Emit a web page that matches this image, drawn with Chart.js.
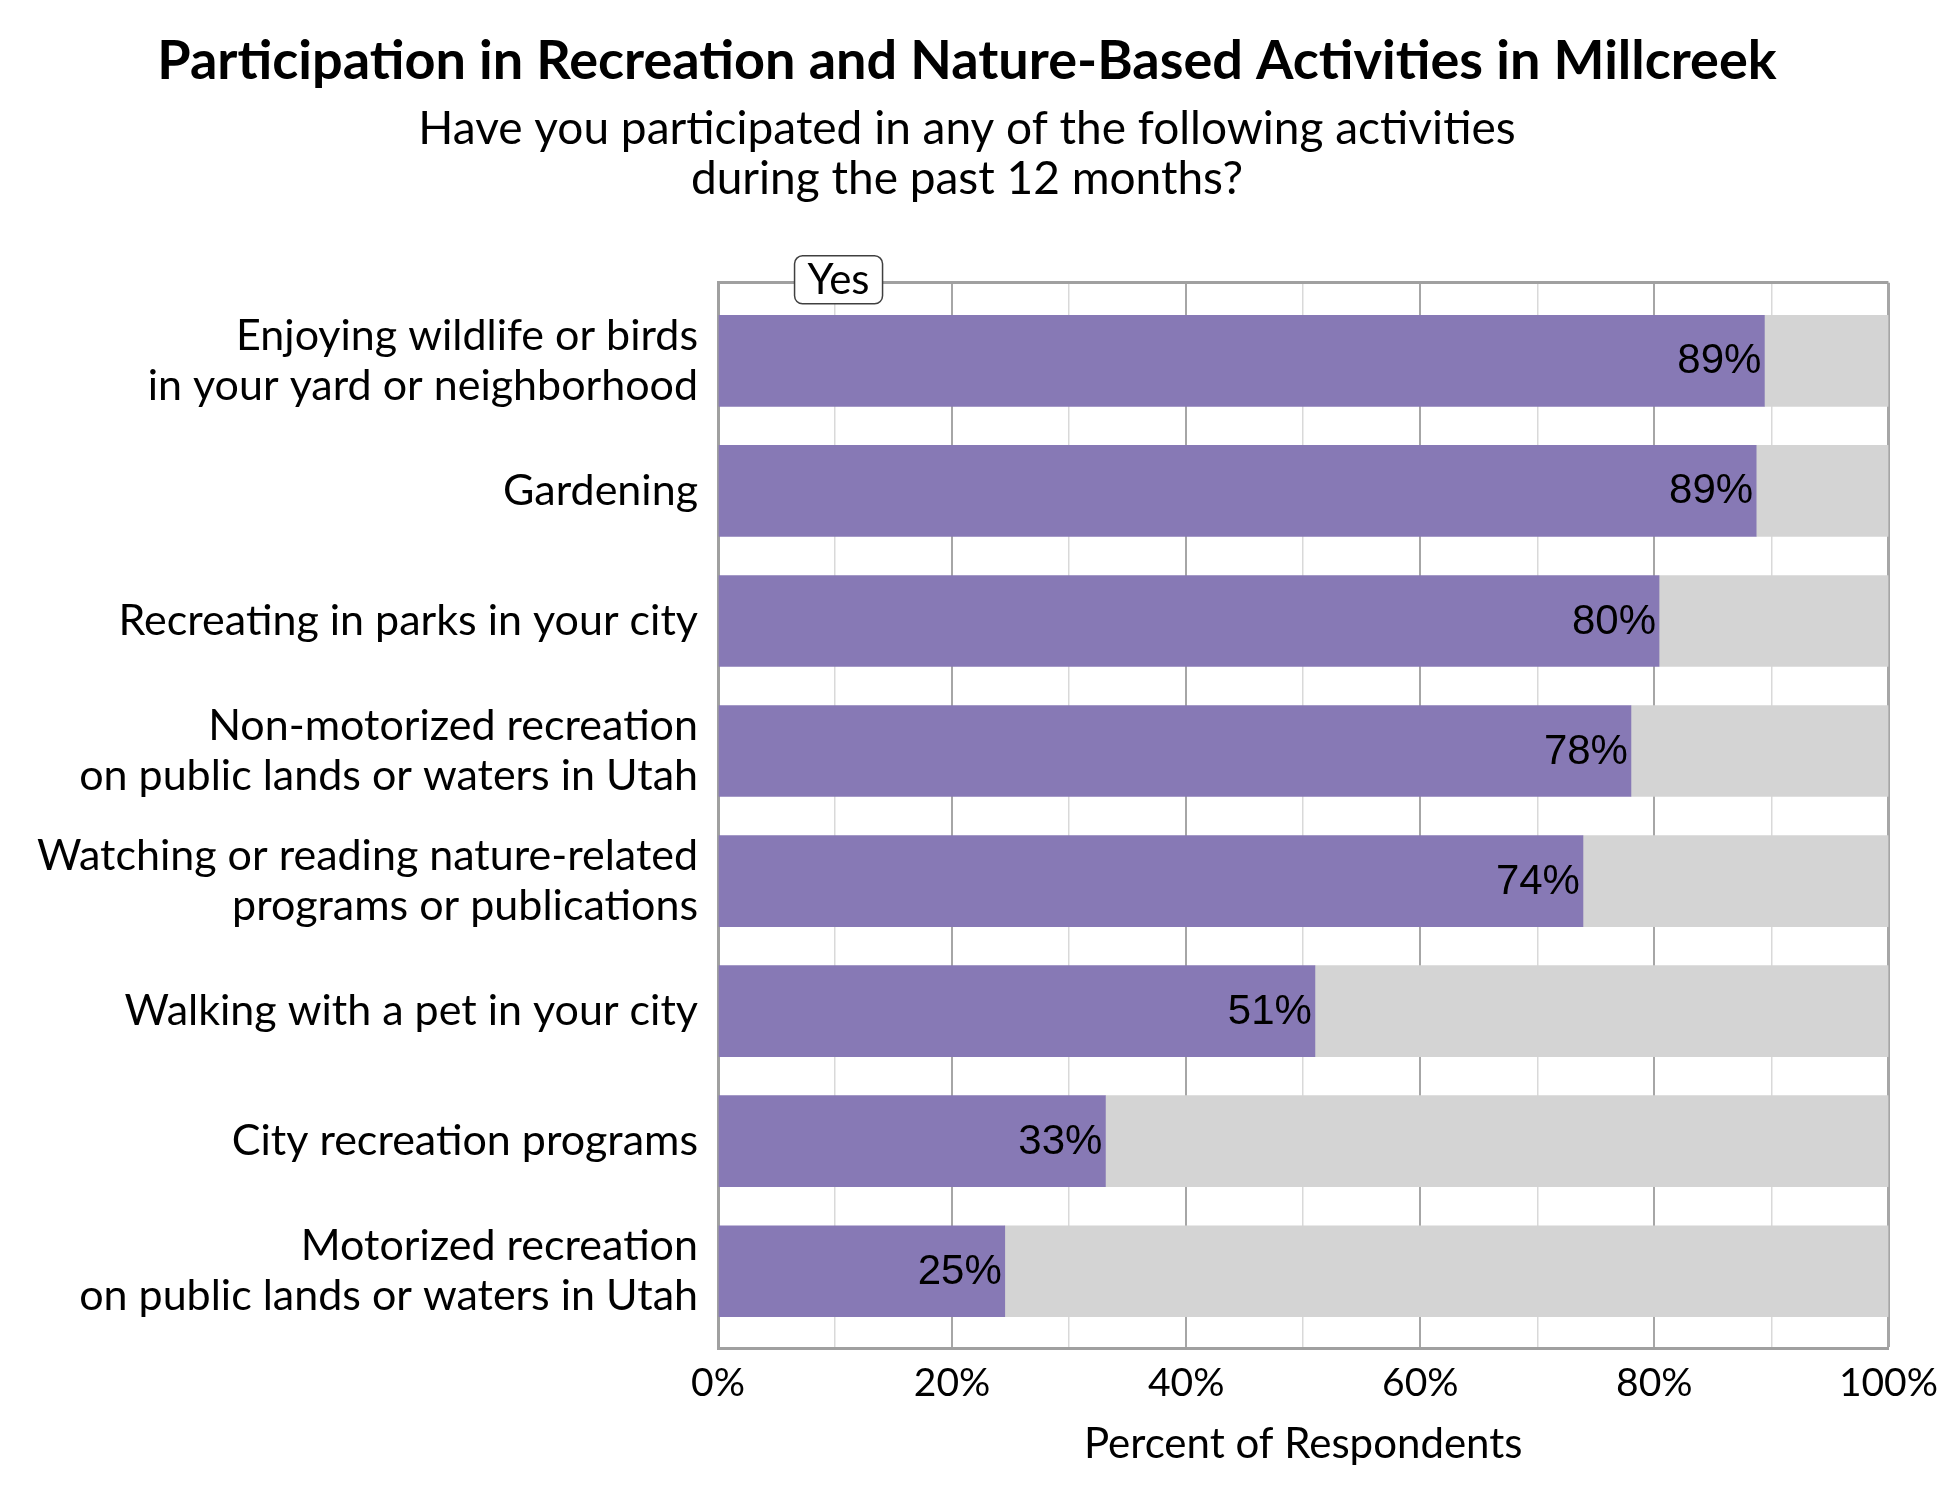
<!DOCTYPE html>
<html><head><meta charset="utf-8">
<script src="https://cdn.jsdelivr.net/npm/chart.js@4.4.1/dist/chart.umd.min.js"></script>
<style>html,body{margin:0;padding:0;background:#fff;} #wrap{width:1950px;height:1500px;}</style>
</head><body><div id="wrap"><canvas id="c" width="1950" height="1500"></canvas></div>
<script>
const titleText = "Participation in Recreation and Nature-Based Activities in Millcreek";
const subtitleLines = ["Have you participated in any of the following activities", "during the past 12 months?"];
const categories = [
  ["Enjoying wildlife or birds", "in your yard or neighborhood"],
  ["Gardening"],
  ["Recreating in parks in your city"],
  ["Non-motorized recreation", "on public lands or waters in Utah"],
  ["Watching or reading nature-related", "programs or publications"],
  ["Walking with a pet in your city"],
  ["City recreation programs"],
  ["Motorized recreation", "on public lands or waters in Utah"]
];
const yesValues = [89.4, 88.7, 80.4, 78.0, 73.9, 51.0, 33.1, 24.5];
const noValues  = [10.6, 11.3, 19.6, 22.0, 26.1, 49.0, 66.9, 75.5];
const seriesNames = ["Yes", "No"];
const xTickValues = [0, 10, 20, 30, 40, 50, 60, 70, 80, 90, 100];
const xTickLabels = ["0%", "", "20%", "", "40%", "", "60%", "", "80%", "", "100%"];
const xAxisTitle = "Percent of Respondents";
const yesLabelAt = 10.3;

const LABEL_FONT = "Lato";
const PURPLE = "#8779B5";
const GREY = "#D4D4D4";

const valueLabels = {
  id: "valueLabels",
  afterDatasetsDraw(chart) {
    const ctx = chart.ctx;
    const meta = chart.getDatasetMeta(0);
    ctx.save();
    ctx.font = "42px 'Liberation Sans', Arial, sans-serif";
    ctx.fillStyle = "#000";
    ctx.textAlign = "right";
    ctx.textBaseline = "middle";
    meta.data.forEach((el, i) => {
      ctx.fillText(Math.round(yesValues[i]) + "%", el.x - 3, el.y + 1);
    });
    ctx.restore();
  }
};

const yesBox = {
  id: "yesBox",
  afterDraw(chart) {
    const ctx = chart.ctx;
    const xs = chart.scales.x;
    const cx = xs.getPixelForValue(yesLabelAt);
    const cy = chart.chartArea.top - 3;
    const w = 88, h = 48, r = 8;
    ctx.save();
    ctx.beginPath();
    ctx.roundRect(cx - w / 2, cy - h / 2, w, h, r);
    ctx.fillStyle = "#fff";
    ctx.fill();
    ctx.lineWidth = 1.5;
    ctx.strokeStyle = "#404040";
    ctx.stroke();
    ctx.font = "42px " + LABEL_FONT;
    ctx.fillStyle = "#000";
    ctx.textAlign = "center";
    ctx.textBaseline = "middle";
    ctx.fillText(seriesNames[0], cx, cy + 1);
    ctx.restore();
  }
};

// let the category labels use the full left margin (no clipping at the layout padding)
const widenLabelArea = {
  id: "widenLabelArea",
  afterLayout(chart) {
    const y = chart.scales.y;
    y.left = 0;
    y.width = y.right;
  }
};

new Chart(document.getElementById("c"), {
  type: "bar",
  data: {
    datasets: [
      { label: seriesNames[0], data: yesValues.map((v, i) => ({ x: v, y: i })), backgroundColor: PURPLE, barThickness: 91 },
      { label: seriesNames[1], data: noValues.map((v, i) => ({ x: v, y: i })), backgroundColor: GREY, barThickness: 91 }
    ]
  },
  options: {
    indexAxis: "y",
    responsive: false,
    devicePixelRatio: 1,
    animation: false,
    layout: { padding: { left: 44, right: 60, top: 0, bottom: 0 } },
    plugins: {
      legend: { display: false },
      tooltip: { enabled: false },
      title: {
        display: true, text: titleText, color: "#000",
        font: { family: LABEL_FONT, size: 54, weight: "bold", lineHeight: 1.2 },
        padding: { top: 29, bottom: 0 }
      },
      subtitle: {
        display: true, text: subtitleLines, color: "#000",
        font: { family: LABEL_FONT, size: 46, lineHeight: 50 / 46 },
        padding: { top: 10, bottom: 79 }
      }
    },
    scales: {
      x: {
        type: "linear", stacked: true, min: 0, max: 100, offset: false,
        afterBuildTicks(axis) { axis.ticks = xTickValues.map(v => ({ value: v })); },
        afterFit(scale) { scale.height = 152; },
        ticks: {
          color: "#000", padding: 12,
          font: { family: LABEL_FONT, size: 39 },
          callback: (v) => xTickLabels[xTickValues.indexOf(v)],
          maxRotation: 0, autoSkip: false
        },
        grid: {
          drawTicks: false, offset: false,
          color: (c) => (c.tick && c.tick.value % 20 === 0) ? "#A6A6A6" : "#D9D9D9",
          lineWidth: (c) => (c.tick && c.tick.value === 100) ? 3 : (c.tick && c.tick.value % 20 === 0 ? 2 : 1.5)
        },
        border: { display: true, color: "#A0A0A0", width: 3 },
        title: {
          display: true, text: xAxisTitle, color: "#000",
          font: { family: LABEL_FONT, size: 42, lineHeight: 1.2 },
          padding: { top: 0, bottom: 30 }
        }
      },
      y: {
        type: "linear", stacked: true, reverse: true, min: -0.6, max: 7.59,
        offset: false, bounds: "data",
        afterBuildTicks(axis) {
          axis.ticks = [{ value: -0.6 }].concat(categories.map((c, i) => ({ value: i })), [{ value: 7.59 }]);
        },
        afterFit(scale) { scale.width = 674; },
        ticks: {
          color: "#000", padding: 20,
          font: { family: LABEL_FONT, size: 43, lineHeight: 50 / 43 },
          callback: (v) => Number.isInteger(v) ? categories[v] : "",
          autoSkip: false
        },
        grid: {
          drawTicks: false, offset: false,
          color: (c) => (c.tick && !Number.isInteger(c.tick.value)) ? "#A0A0A0" : "rgba(0,0,0,0)",
          lineWidth: 3
        },
        border: { display: true, color: "#A0A0A0", width: 3 }
      }
    }
  },
  plugins: [valueLabels, yesBox, widenLabelArea]
});
</script>
</body></html>
